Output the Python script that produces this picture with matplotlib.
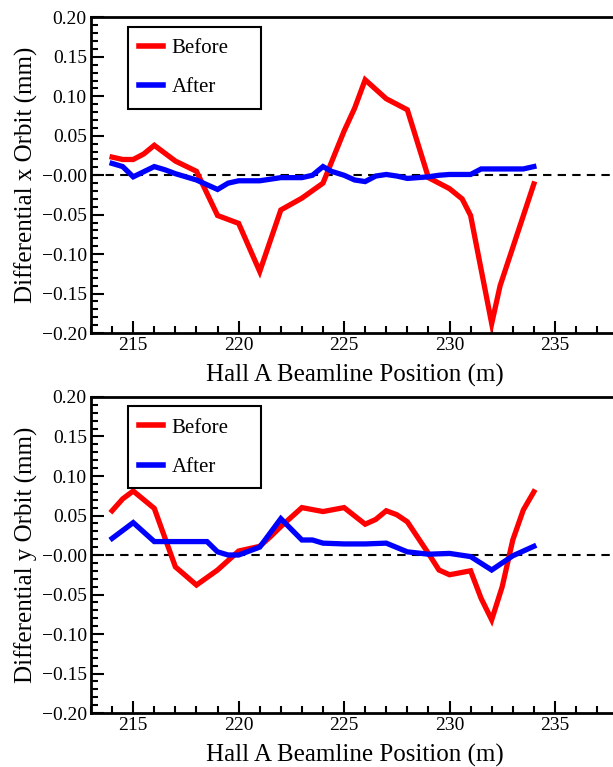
import numpy as np
import matplotlib.pyplot as plt
from matplotlib.ticker import MultipleLocator, FuncFormatter

plt.rcParams['font.family'] = ['Liberation Serif', 'DejaVu Serif']
plt.rcParams['axes.unicode_minus'] = True

# x orbit (top)
x_bef_x = [214.0, 214.5, 215.0, 215.5, 216.0, 217.0, 218.0, 219.0, 220.0, 221.0, 222.0,
           223.0, 224.0, 225.0, 225.5, 226.0, 227.0, 228.0, 229.0, 230.0, 230.6, 231.0,
           232.0, 232.4, 234.0]
y_bef_x = [0.023, 0.020, 0.020, 0.027, 0.038, 0.018, 0.005, -0.051, -0.061, -0.122, -0.044,
           -0.029, -0.010, 0.056, 0.085, 0.121, 0.097, 0.083, -0.003, -0.017, -0.030, -0.051,
           -0.188, -0.140, -0.011]
x_aft_x = [214.0, 214.5, 215.0, 216.0, 216.5, 217.0, 218.0, 219.0, 219.5, 220.0, 221.0,
           222.0, 223.0, 223.5, 224.0, 224.4, 225.0, 225.5, 226.0, 226.5, 227.0, 227.5,
           228.0, 229.0, 229.5, 230.0, 231.0, 231.5, 232.0, 233.0, 233.5, 234.0]
y_aft_x = [0.015, 0.011, -0.002, 0.011, 0.007, 0.002, -0.006, -0.018, -0.010, -0.007, -0.007,
           -0.003, -0.003, 0.000, 0.011, 0.005, 0.000, -0.006, -0.008, -0.001, 0.001, -0.001,
           -0.004, -0.002, 0.000, 0.001, 0.001, 0.008, 0.008, 0.008, 0.008, 0.011]

# y orbit (bottom)
x_bef_y = [214.0, 214.5, 215.0, 216.0, 217.0, 218.0, 219.0, 220.0, 221.0, 221.5, 222.0,
           223.0, 224.0, 225.0, 226.0, 226.5, 227.0, 227.5, 228.0, 229.0, 229.5, 230.0,
           231.0, 231.5, 232.0, 232.5, 233.0, 233.5, 234.0]
y_bef_y = [0.056, 0.071, 0.081, 0.059, -0.015, -0.038, -0.019, 0.005, 0.011, 0.023, 0.036,
           0.060, 0.055, 0.060, 0.039, 0.045, 0.056, 0.051, 0.042, 0.002, -0.019, -0.025,
           -0.020, -0.055, -0.082, -0.040, 0.019, 0.057, 0.080]
x_aft_y = [214.0, 215.0, 216.0, 217.0, 218.0, 218.5, 219.0, 219.5, 220.0, 221.0, 222.0,
           223.0, 223.5, 224.0, 225.0, 226.0, 227.0, 228.0, 229.0, 230.0, 231.0, 232.0,
           233.0, 234.0]
y_aft_y = [0.021, 0.041, 0.017, 0.017, 0.017, 0.017, 0.004, 0.000, 0.000, 0.010, 0.046,
           0.019, 0.019, 0.015, 0.014, 0.014, 0.015, 0.004, 0.001, 0.002, -0.002, -0.019,
           -0.001, 0.011]

panels = [
    (x_bef_x, y_bef_x, x_aft_x, y_aft_x, 'Differential x Orbit (mm)'),
    (x_bef_y, y_bef_y, x_aft_y, y_aft_y, 'Differential y Orbit (mm)'),
]


def fmt(v, pos):
    s = '%.2f' % abs(v)
    if v < 0 or abs(v) < 1e-9:
        s = '\u2212' + s
    return s


fig = plt.figure(figsize=(6.13, 7.67), dpi=100)
rects = [[0.1485, 0.5658, 0.86, 0.4114], [0.1485, 0.0704, 0.86, 0.4120]]

for rect, (xb, yb, xa, ya, ylab) in zip(rects, panels):
    ax = fig.add_axes(rect)
    ax.plot(xb, yb, color='#ff0000', lw=3.8, label='Before', solid_joinstyle='miter')
    ax.plot(xa, ya, color='#0000ff', lw=3.8, label='After', solid_joinstyle='miter')
    ax.axhline(0, color='black', lw=1.5, ls=(0, (4, 3)), zorder=0)
    ax.set_xlim(213, 238)
    ax.set_ylim(-0.2, 0.2)
    ax.xaxis.set_major_locator(MultipleLocator(5))
    ax.xaxis.set_minor_locator(MultipleLocator(1))
    ax.yaxis.set_major_locator(MultipleLocator(0.05))
    ax.yaxis.set_minor_locator(MultipleLocator(0.01))
    ax.yaxis.set_major_formatter(FuncFormatter(fmt))
    ax.tick_params(which='both', direction='in', top=False, right=False,
                   labelsize=14, width=1.5, pad=3)
    ax.tick_params(which='major', length=9)
    ax.tick_params(which='minor', length=5)
    ax.spines['right'].set_visible(False)
    for s in ['left', 'bottom', 'top']:
        ax.spines[s].set_linewidth(2)
    ax.set_xlabel('Hall A Beamline Position (m)', fontsize=18, labelpad=7)
    ax.set_ylabel(ylab, fontsize=18, labelpad=3)
    leg = ax.legend(loc='upper left', bbox_to_anchor=(0.07, 0.3, 0.252, 0.67),
                    mode='expand', fontsize=15,
                    fancybox=False, framealpha=1, edgecolor='black',
                    handlelength=1.15, handletextpad=0.4, labelspacing=0.95,
                    borderpad=0.55, borderaxespad=0)
    leg.get_frame().set_linewidth(1.5)
    for l in leg.get_lines():
        l.set_linewidth(4)

fig.savefig('out.png', dpi=100)
